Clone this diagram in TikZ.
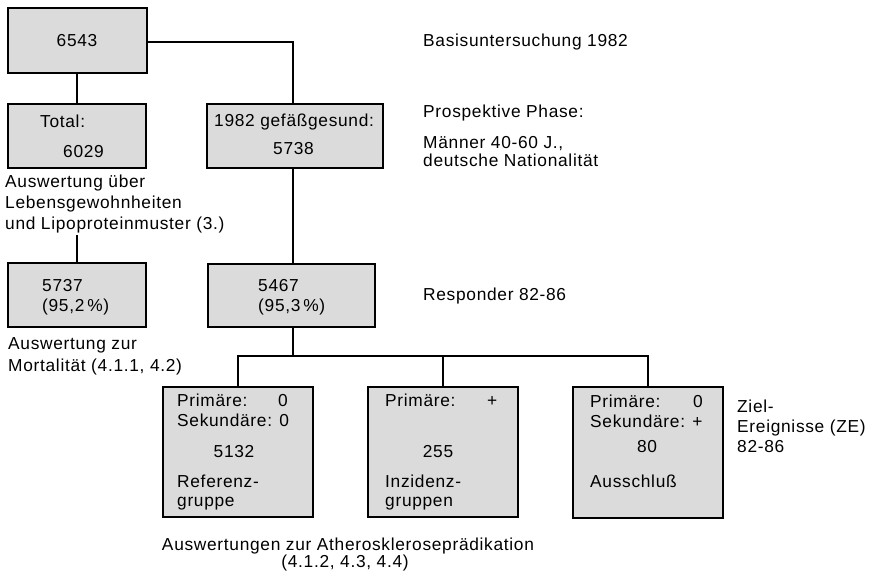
\documentclass[tikz,border=0pt]{standalone}
\usepackage{fontspec}
\setmainfont[LetterSpace=4]{Liberation Sans}
\begin{document}
\begin{tikzpicture}[x=1bp,y=-1bp,
  box/.style={draw=black,line width=1.4bp,fill=black!14,inner sep=0pt},
  conn/.style={draw=black,line width=1.1bp},
  txt/.style={anchor=base west,inner sep=0pt,font=\fontsize{17.4}{20}\selectfont},
  ctxt/.style={anchor=base,inner sep=0pt,font=\fontsize{17.4}{20}\selectfont}]
\useasboundingbox (0,0) rectangle (872,579);
% boxes
\path[box] (8,8) rectangle (147,73);
\node[minimum width=139bp,minimum height=65bp,inner sep=0pt] (b0) at (77.5,40.5) {};
\path[box] (8,104) rectangle (146,168);
\node[minimum width=138bp,minimum height=64bp,inner sep=0pt] (b1) at (77,136) {};
\path[box] (207,104) rectangle (383,168);
\node[minimum width=176bp,minimum height=64bp,inner sep=0pt] (b2) at (295,136) {};
\path[box] (8,263) rectangle (146,327);
\node[minimum width=138bp,minimum height=64bp,inner sep=0pt] (b3) at (77,295) {};
\path[box] (208,264) rectangle (375,327);
\node[minimum width=167bp,minimum height=63bp,inner sep=0pt] (b4) at (291.5,295.5) {};
\path[box] (163,387) rectangle (313,517);
\node[minimum width=150bp,minimum height=130bp,inner sep=0pt] (b5) at (238,452) {};
\path[box] (368,387) rectangle (518,517);
\node[minimum width=150bp,minimum height=130bp,inner sep=0pt] (b6) at (443,452) {};
\path[box] (573,387) rectangle (723,518);
\node[minimum width=150bp,minimum height=131bp,inner sep=0pt] (b7) at (648,452.5) {};
\coordinate (j0) at (293,42);
\coordinate (j1) at (77,235);
\coordinate (j2) at (293,356);
% connectors
\draw[conn] (b0.east |- j0) -- (j0) -- (j0 |- b2.north);
\draw[conn] (b0.south -| 77,0) -- (b1.north -| 77,0);
\draw[conn] (j1) -- (b3.north -| j1);
\draw[conn] (b2.south -| 293,0) -- (b4.north -| 293,0);
\draw[conn] (b4.south -| j2) -- (j2);
\draw[conn] (b5.north) -- (b5.north |- j2) -- (b7.north |- j2) -- (b7.north);
\draw[conn] (b6.north |- j2) -- (b6.north);
% box texts
\node[ctxt] (t0) at (77,47) {6543};
\node[txt] (t1a) at (40,128) {Total:};
\node[txt] (t1b) at (63,158) {6029};
\node[txt] (t2a) at (214,127) {1982 gefäßgesund:};
\node[txt] (t2b) at (273,155) {5738};
\node[txt] (t3a) at (42,291) {5737};
\node[txt] (t3b) at (42,311) {(95,2\,\%)};
\node[txt] (t4a) at (258,291) {5467};
\node[txt] (t4b) at (258,311) {(95,3\,\%)};
\node[txt] (t5a) at (177,406) {Primäre:};
\node[txt] (t5b) at (278,406) {0};
\node[txt] (t5c) at (177,426) {Sekundäre: 0};
\node[ctxt] (t5d) at (234,457) {5132};
\node[txt] (t5e) at (177,487) {Referenz-};
\node[txt] (t5f) at (177,506) {gruppe};
\node[txt] (t6a) at (385,406) {Primäre:};
\node[txt] (t6b) at (487,406) {+};
\node[ctxt] (t6d) at (438,457) {255};
\node[txt] (t6e) at (385,487) {Inzidenz-};
\node[txt] (t6f) at (385,506) {gruppen};
\node[txt] (t7a) at (590,407) {Primäre:};
\node[txt] (t7b) at (693,407) {0};
\node[txt] (t7c) at (590,427) {Sekundäre: +};
\node[ctxt] (t7d) at (647,452) {80};
\node[txt] (t7e) at (590,487) {Ausschluß};
% outside texts
\node[txt] (l0) at (423,47) {Basisuntersuchung 1982};
\node[txt] (l1) at (423,118) {Prospektive Phase:};
\node[txt] (l2) at (423,149) {Männer 40-60 J.,};
\node[txt] (l3) at (423,167) {deutsche Nationalität};
\node[txt] (l4) at (5,188) {Auswertung über};
\node[txt] (l5) at (5,209) {Lebensgewohnheiten};
\node[txt] (l6) at (5,230) {und Lipoproteinmuster (3.)};
\node[txt] (l7) at (8,349) {Auswertung zur};
\node[txt] (l8) at (8,371) {Mortalität (4.1.1, 4.2)};
\node[txt] (l9) at (423,300) {Responder 82-86};
\node[txt] (l10) at (737,412) {Ziel-};
\node[txt] (l11) at (737,432) {Ereignisse (ZE)};
\node[txt] (l12) at (737,452) {82-86};
\node[ctxt] (l13) at (348,550) {Auswertungen zur Atheroskleroseprädikation};
\node[ctxt] (l14) at (345,567) {(4.1.2, 4.3, 4.4)};
\end{tikzpicture}
\end{document}
